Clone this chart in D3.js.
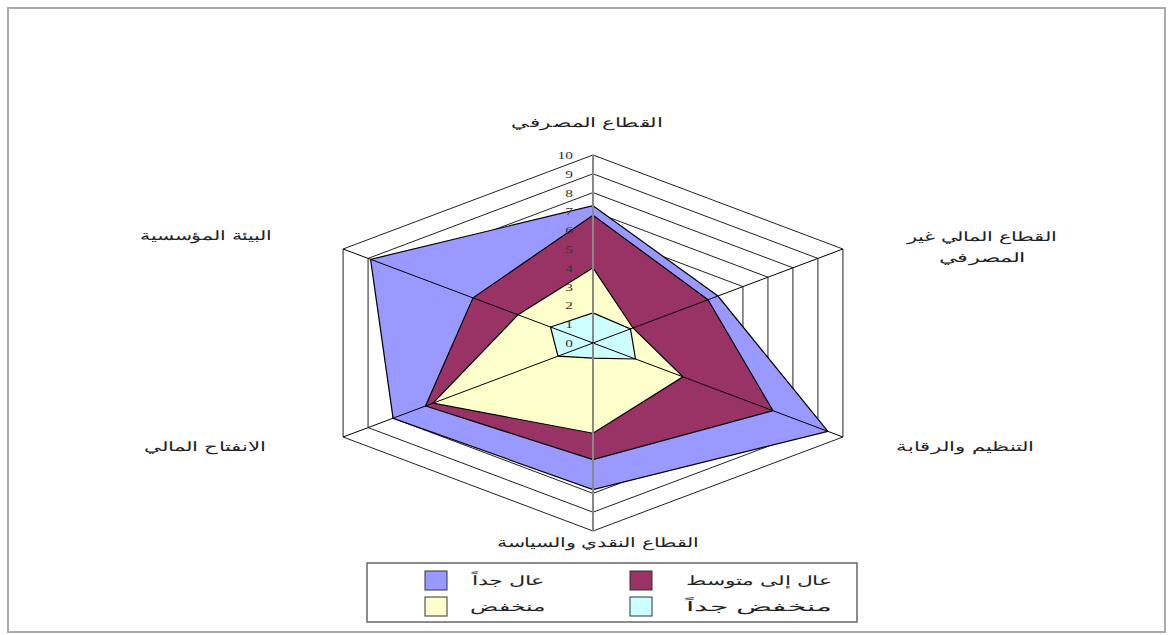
<!DOCTYPE html>
<html><head><meta charset="utf-8">
<script src="https://cdn.jsdelivr.net/npm/d3@7"></script>
<style>html,body{margin:0;padding:0;background:#fff;}</style>
</head><body>
<svg id="chart" width="1172" height="635"></svg>
<script>
// ---- data ----
const axes = ["القطاع المصرفي", "القطاع المالي غير المصرفي", "التنظيم والرقابة", "القطاع النقدي والسياسة", "الانفتاح المالي", "البيئة المؤسسية"];
const axisLines = [["القطاع المصرفي"], ["القطاع المالي غير", "المصرفي"], ["التنظيم والرقابة"], ["القطاع النقدي والسياسة"], ["الانفتاح المالي"], ["البيئة المؤسسية"]];
const seriesNames = ["عال جداً", "عال إلى متوسط", "منخفض", "منخفض جداً"];
const veryHigh   = [7.3, 5.0, 9.4, 7.8, 8.0, 8.9];
const highMedium = [6.8, 4.6, 7.2, 6.2, 6.7, 4.8];
const low        = [4.0, 1.6, 3.6, 4.8, 6.4, 3.0];
const veryLow    = [1.6, 1.5, 1.7, 0.8, 1.4, 1.7];
const tickValues = [0,1,2,3,4,5,6,7,8,9,10];

// ---- layout ----
const svg = d3.select("#chart");
const cx = 593, cy = 343, R = 188, sx = 1.535;
const colors = ["#9999FF", "#993366", "#FFFFCC", "#CCFFFF"];
const allSeries = [veryHigh, highMedium, low, veryLow];

svg.append("rect").attr("x", 8).attr("y", 8).attr("width", 1157).attr("height", 624)
  .attr("fill", "#fff").attr("stroke", "#aaa").attr("stroke-width", 2);

const r = d3.scaleLinear().domain([0, 10]).range([0, R]);
const angle = d3.scalePoint().domain(d3.range(axes.length + 1)).range([0, 2 * Math.PI]);

const g = svg.append("g").attr("transform", `translate(${cx},${cy}) scale(${sx},1)`);

const radial = d3.lineRadial()
  .angle((d, i) => angle(i))
  .radius(d => r(d))
  .curve(d3.curveLinearClosed);

// rings
g.append("g").selectAll("path").data(tickValues.slice(1)).join("path")
  .attr("d", t => radial(axes.map(() => t)))
  .attr("fill", "none").attr("stroke", "#222").attr("stroke-width", 1)
  .attr("vector-effect", "non-scaling-stroke");

// series fills
g.append("g").selectAll("path").data(allSeries).join("path")
  .attr("d", d => radial(d))
  .attr("fill", (d, i) => colors[i]).attr("stroke", "#000").attr("stroke-width", 1.2)
  .attr("vector-effect", "non-scaling-stroke");

// spokes
const pt = (i, v) => [Math.sin(angle(i)) * r(v), -Math.cos(angle(i)) * r(v)];
g.append("g").selectAll("line").data(d3.range(axes.length)).join("line")
  .attr("x1", 0).attr("y1", 0)
  .attr("x2", i => pt(i, 10)[0]).attr("y2", i => pt(i, 10)[1])
  .attr("stroke", i => (i === 0 || i === 3) ? "#888" : "#000")
  .attr("stroke-width", i => (i === 0 || i === 3) ? 2 : 1)
  .attr("vector-effect", "non-scaling-stroke");

// tick labels
svg.append("g").selectAll("text").data(tickValues).join("text")
  .attr("transform", t => `translate(${cx - 20},${cy - r(t) + 4}) scale(1.4,1)`)
  .attr("text-anchor", "end")
  .attr("font-family", "Liberation Serif, Times New Roman, serif")
  .attr("font-size", 11).attr("fill", "#333")
  .text(t => t);

// helper: place a centred text stretched horizontally to a target width
function stretchText(parent, s, x, y, w) {
  const t = parent.append("text")
    .attr("text-anchor", "middle").attr("direction", "rtl")
    .attr("font-family", "Liberation Sans, Arial, sans-serif")
    .attr("font-size", 13).attr("fill", "#222").text(s);
  const actual = t.node().getBBox().width || w;
  t.attr("transform", `translate(${x},${y}) scale(${w / actual},1)`);
  return t;
}

// axis labels
const labelPos = [[587, 127], [982, 241], [965, 451], [598, 547], [205, 451], [206, 240]];
const labelWidths = [[153], [160, 89], [140], [210], [126], [138]];
const lbl = svg.append("g");
axisLines.forEach((lines, i) => {
  lines.forEach((s, j) => stretchText(lbl, s, labelPos[i][0], labelPos[i][1] + j * 21, labelWidths[i][j]));
});

// legend
const lg = svg.append("g");
lg.append("rect").attr("x", 367).attr("y", 563).attr("width", 490).attr("height", 59)
  .attr("fill", "#fff").attr("stroke", "#666").attr("stroke-width", 1.5);
const legPos = [[425, 571, 508], [630, 571, 759], [425, 597, 508], [630, 597, 759]];
const legWidths = [75, 148, 75, 148];
seriesNames.forEach((name, i) => {
  const [x, y, tx] = legPos[i];
  lg.append("rect").attr("x", x).attr("y", y).attr("width", 22).attr("height", 19)
    .attr("fill", colors[i]).attr("stroke", "#333").attr("stroke-width", 1);
  stretchText(lg, name, tx, y + 14, legWidths[i]);
});
</script>
</body></html>
